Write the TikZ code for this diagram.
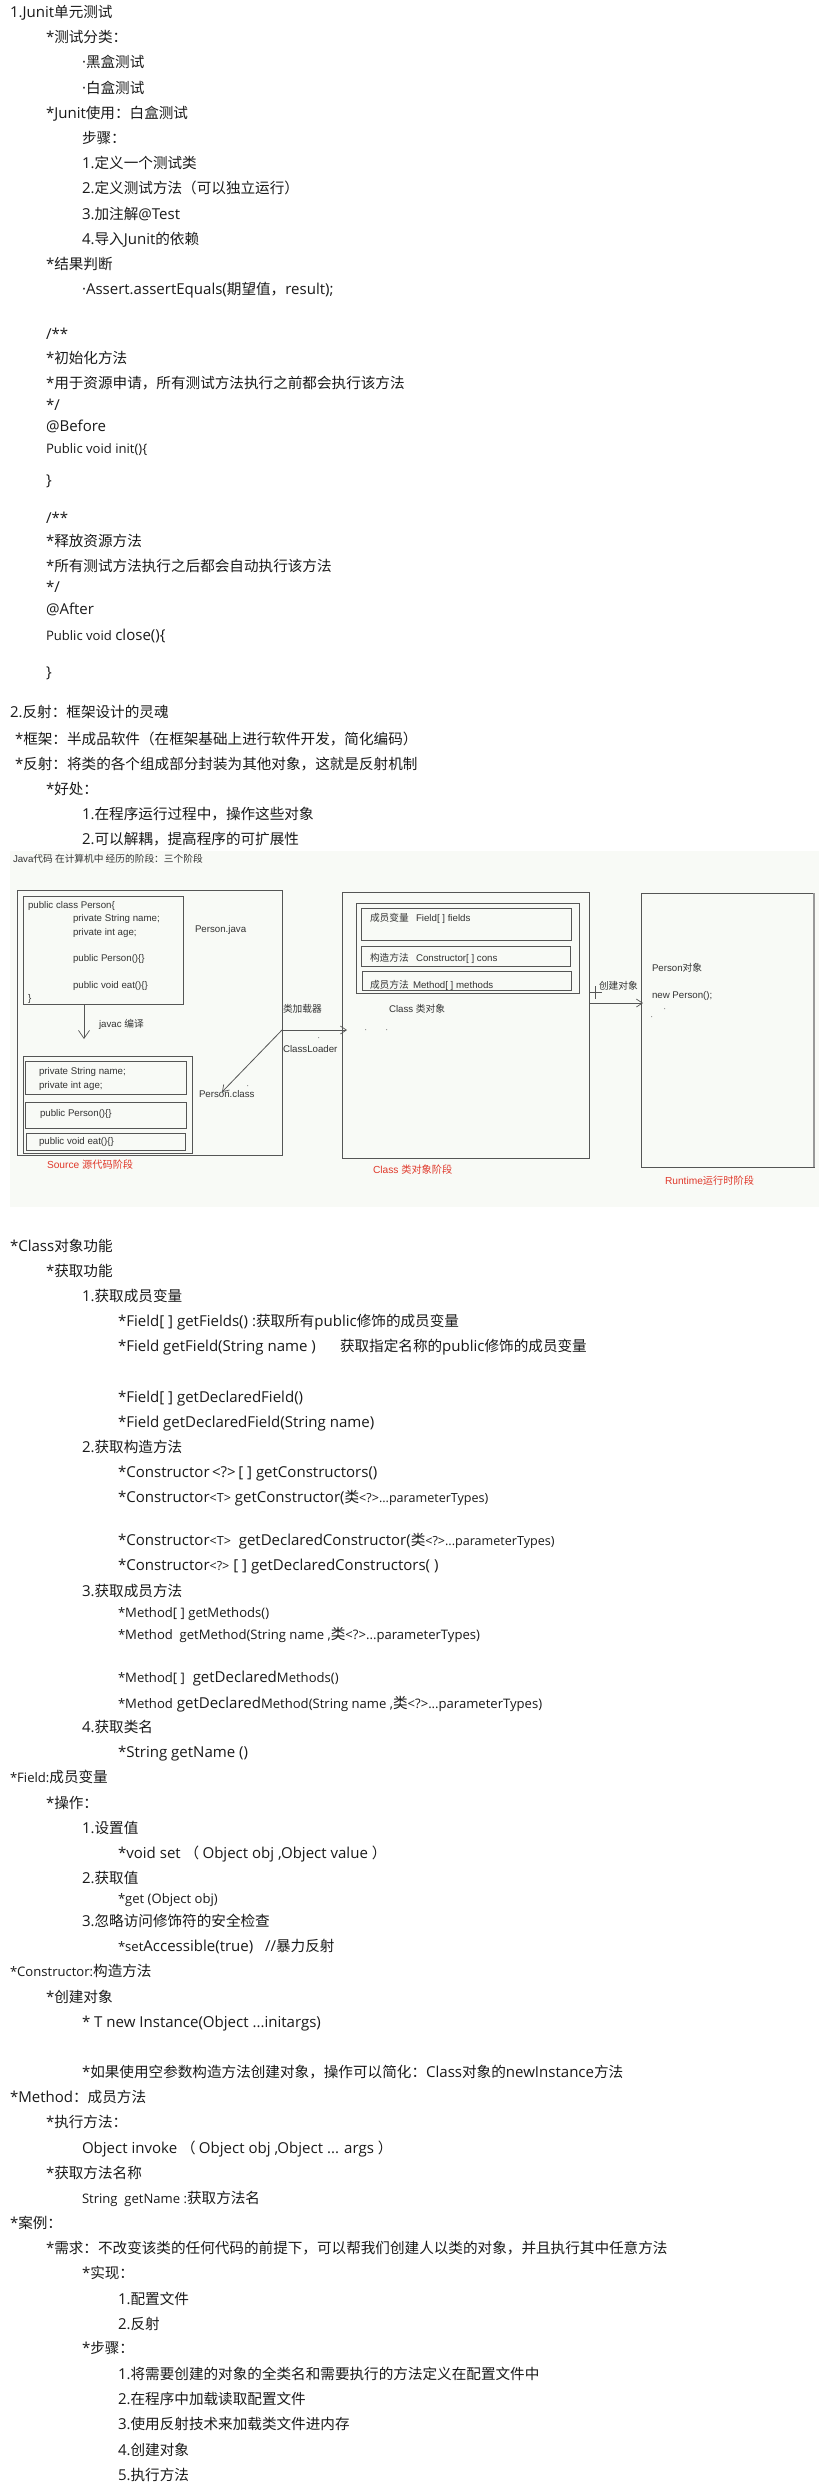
\documentclass[tikz,border=0pt]{standalone}
\usepackage{fontspec}
\usetikzlibrary{arrows.meta}
\setmainfont{Open Sans}
\newfontfamily\latinf[Scale=1.03]{Open Sans}
\newfontfamily\arialf{Liberation Sans}
\newfontfamily\cjk{Noto Sans CJK SC}
\XeTeXinterchartokenstate=1
\newXeTeXintercharclass\CJKc
\count255="4E00 \loop \XeTeXcharclass\count255=\CJKc \ifnum\count255<"9FFF \advance\count255 by 1 \repeat
\count255="FF00 \loop \XeTeXcharclass\count255=\CJKc \ifnum\count255<"FFEF \advance\count255 by 1 \repeat
\count255="3000 \loop \XeTeXcharclass\count255=\CJKc \ifnum\count255<"303F \advance\count255 by 1 \repeat
\XeTeXinterchartoks 0 \CJKc = {\cjk}
\XeTeXinterchartoks 4095 \CJKc = {\cjk}
\XeTeXinterchartoks \CJKc 0 = {\latinf}
\XeTeXinterchartoks 4095 0 = {\latinf}
\newcommand{\mainsz}{\fontsize{14.6}{17}\selectfont}
\newcommand{\mdsz}{\fontsize{12.7}{15}\selectfont}
\newcommand{\smsz}{\fontsize{12.2}{15}\selectfont}
\newcommand{\dgsz}{\let\latinf\arialf\arialf\fontsize{9.7}{12}\selectfont}
\newcommand{\dgrsz}{\let\latinf\arialf\arialf\fontsize{10.2}{12}\selectfont}
\definecolor{ink}{HTML}{1A1A1A}
\definecolor{diagbg}{HTML}{F8FAF6}
\definecolor{dline}{HTML}{555555}
\definecolor{dside}{HTML}{999999}
\definecolor{dtext}{HTML}{333333}
\definecolor{dred}{HTML}{E0392B}
\tikzset{
  tx/.style={anchor=base west,inner sep=0pt,outer sep=0pt,text=ink,font=\latinf\mainsz},
  txm/.style={tx,font=\latinf\mdsz},
  dg/.style={anchor=base west,inner sep=0pt,outer sep=0pt,text=dtext,font=\dgsz},
  dgred/.style={dg,text=dred,font=\dgrsz},
  bx/.style={draw=dline,line width=0.9pt,inner sep=0pt,outer sep=0pt},
  arr/.style={draw=dline,line width=0.8pt,-{Straight Barb[length=8pt,width=11pt,line width=0.7pt]}},
  arrs/.style={draw=dline,line width=0.8pt,-{Straight Barb[length=6pt,width=8pt,line width=0.7pt]}},
  speck/.style={fill=dside},
}
\newcommand{\Bx}[5]{\node[bx,minimum width={(#4)-(#2)},minimum height={(#5)-(#3)}] (#1) at ({((#2)+(#4))/2},{((#3)+(#5))/2}) {};}
\begin{document}
\begin{tikzpicture}[x=1pt,y=-1pt]
\useasboundingbox[fill=white] (0,0) rectangle (822,2488);
% section 1
\node[tx] (a1) at (10,18) {1.Junit单元测试};
\node[tx] (a2) at (46,43) {*测试分类：};
\node[tx] (a3) at (82,68) {·黑盒测试};
\node[tx] (a4) at (82,93.5) {·白盒测试};
\node[tx] (a5) at (46,118.5) {*Junit使用：白盒测试};
\node[tx] (a6) at (82,144) {步骤：};
\node[tx] (a7) at (82,169) {1.定义一个测试类};
\node[tx] (a8) at (82,194) {2.定义测试方法（可以独立运行）};
\node[tx] (a9) at (82,220) {3.加注解@Test};
\node[tx] (a10) at (82,245) {4.导入Junit的依赖};
\node[tx] (a11) at (46,270) {*结果判断};
\node[tx] (a12) at (82,295) {·Assert.assertEquals(期望值，result);};
\node[tx] (a13) at (46,340) {/**};
\node[tx] (a14) at (46,363) {*初始化方法};
\node[tx] (a15) at (46,388) {*用于资源申请，所有测试方法执行之前都会执行该方法};
\node[tx] (a16) at (46,410) {*/};
\node[tx] (a17) at (46,431) {@Before};
\node[txm] (a18) at (46,453) {Public void init()\{};
\node[tx] (a19) at (46,485) {\}};
\node[tx] (a20) at (46,523) {/**};
\node[tx] (a21) at (46,546) {*释放资源方法};
\node[tx] (a22) at (46,571) {*所有测试方法执行之后都会自动执行该方法};
\node[tx] (a23) at (46,592) {*/};
\node[tx] (a24) at (46,614) {@After};
\node[txm] (a25) at (46,640) {Public void {\mainsz close()\{}};
\node[tx] (a26) at (46,677) {\}};
\node[tx] (a27) at (10,717) {2.反射：框架设计的灵魂};
\node[tx] (a28) at (15,744) {*框架：半成品软件（在框架基础上进行软件开发，简化编码）};
\node[tx] (a29) at (15,769) {*反射：将类的各个组成部分封装为其他对象，这就是反射机制};
\node[tx] (a30) at (46,794) {*好处：};
\node[tx] (a31) at (82,819) {1.在程序运行过程中，操作这些对象};
\node[tx] (a32) at (82,844) {2.可以解耦，提高程序的可扩展性};
% diagram
\node[fill=diagbg,inner sep=0pt,minimum width=809pt,minimum height=356pt] (bg) at (414.5,1029) {};
\node[dg] (d0) at (13,862.5) {Java代码 在计算机中 经历的阶段：三个阶段};
\Bx{boxA}{17.5}{890}{282}{1155}
\Bx{jv}{23}{896}{183}{1004}
\node[dg] (j1) at (28,908) {public class Person\{};
\node[dg] (j2) at (73,921.5) {private String name;};
\node[dg] (j3) at (73,935) {private int age;};
\node[dg] (j4) at (73,961.5) {public Person()\{\}};
\node[dg] (j5) at (73,988.5) {public void eat()\{\}};
\node[dg] (j6) at (28,1001.5) {\}};
\node[dg] (pj) at (195,932.5) {Person.java};
\node[dg] (jc) at (99,1027.5) {javac 编译};
\Bx{cl}{23}{1056}{192}{1153}
\Bx{c1}{25}{1061}{186}{1094}
\Bx{c2}{25}{1102}{186}{1128}
\Bx{c3}{26}{1133}{185}{1150}
\node[dg] (c1a) at (39,1074.5) {private String name;};
\node[dg] (c1b) at (39,1088) {private int age;};
\node[dg] (c2a) at (40,1116.5) {public Person()\{\}};
\node[dg] (c3a) at (39,1144.5) {public void eat()\{\}};
\node[dgred] (r1) at (47,1168.5) {Source 源代码阶段};
\node[dg] (pc) at (199,1097.5) {Person.class};
\node[dg] (cla) at (283,1012.5) {类加载器};
\node[dg] (clb) at (283,1052.5) {ClassLoader};
\Bx{boxB}{342}{892}{589}{1158}
\Bx{mem}{356}{903}{579}{993}
\Bx{fd}{361}{908}{571}{940}
\Bx{cn}{361}{946}{570}{966}
\Bx{mt}{362}{971}{571}{990}
\node[dg] (fd1) at (370,921.5) {成员变量};
\node[dg] (fd2) at (416,921.5) {Field[ ] fields};
\node[dg] (cn1) at (370,961.5) {构造方法};
\node[dg] (cn2) at (416,961.5) {Constructor[ ] cons};
\node[dg] (mt1) at (370,988) {成员方法};
\node[dg] (mt2) at (413,988) {Method[ ] methods};
\node[dg] (clo) at (389,1012.5) {Class 类对象};
\node[dgred] (r2) at (373,1173.5) {Class 类对象阶段};
\Bx{boxC}{641}{893}{814}{1167}
\draw[dside,line width=1.4pt] (boxC.north east) -- (boxC.south east);
\node[dg] (po) at (652,971.5) {Person对象};
\node[dg] (np) at (652,998.5) {new Person();};
\node[dgred] (r3) at (665,1184.5) {Runtime运行时阶段};
\node[dg] (cj) at (599,989.5) {创建对象};
\coordinate (clA) at (282,1030);
\coordinate (clB) at (347,1030);
\coordinate (clC) at (222,1092);
\coordinate (cjA) at (589,1003);
\coordinate (cjB) at (643,1003);
\coordinate (pv) at (595,986);
\coordinate (pw) at (595,999);
\coordinate (ph) at (589,992);
\coordinate (pe) at (602,992);
\coordinate (jvb) at (84,1004);
\coordinate (jve) at (84,1039);
\draw[arr] (jvb) -- (jve);
\draw[arrs] (clA) -- (clB);
\draw[arrs] (clA) -- (clC);
\draw[arrs] (cjA) -- (cjB);
\draw[dline,line width=0.6pt] (pv) -- (pw) (ph) -- (pe);
\fill[speck] (365,1029) rectangle +(1,1) (386,1029) rectangle +(1,1) (318,1037) rectangle +(1,1) (247,1085) rectangle +(1,1) (664,1008) rectangle +(1,1) (651,1016) rectangle +(1,1);
% section 3
\node[tx] (b1) at (10,1251) {*Class对象功能};
\node[tx] (b2) at (46,1276) {*获取功能};
\node[tx] (b3) at (82,1301) {1.获取成员变量};
\node[tx] (b4) at (118,1326) {*Field[ ] getFields() :获取所有public修饰的成员变量};
\node[tx] (b5) at (118,1351) {*Field getField(String name )};
\node[tx] (b5b) at (340,1351) {获取指定名称的public修饰的成员变量};
\node[tx] (b6) at (118,1402) {*Field[ ] getDeclaredField()};
\node[tx] (b7) at (118,1427) {*Field getDeclaredField(String name)};
\node[tx] (b8) at (82,1452) {2.获取构造方法};
\node[tx] (b9) at (118,1477) {*Constructor\,<?>\,[ ] getConstructors()};
\node[tx] (b10) at (118,1502) {*Constructor{\smsz <T>} getConstructor(类{\smsz <?>...parameterTypes)}};
\node[tx] (b11) at (118,1545) {*Constructor{\smsz <T>}\ \ getDeclaredConstructor(类{\smsz <?>...parameterTypes)}};
\node[tx] (b12) at (118,1570) {*Constructor{\smsz <?>} [ ] getDeclaredConstructors( )};
\node[tx] (b13) at (82,1596) {3.获取成员方法};
\node[txm] (b14) at (118,1617) {*Method[ ] getMethods()};
\node[txm] (b15) at (118,1639) {*Method\ \ getMethod(String name ,{\mainsz 类}<?>...parameterTypes)};
\node[tx] (b16) at (118,1682) {{\mdsz *Method[ ]}\ \ getDeclared{\mdsz Methods()}};
\node[tx] (b17) at (118,1708) {{\mdsz *Method} getDeclared{\mdsz Method(String name ,}类{\mdsz <?>...parameterTypes)}};
\node[tx] (b18) at (82,1732) {4.获取类名};
\node[tx] (b19) at (118,1757) {*String getName ()};
\node[tx] (b20) at (10,1782) {{\mdsz *Field:}成员变量};
\node[tx] (b21) at (46,1808) {*操作：};
\node[tx] (b22) at (82,1833) {1.设置值};
\node[tx] (b23) at (118,1858) {*void set （ Object obj ,Object value ）};
\node[tx] (b24) at (82,1883) {2.获取值};
\node[txm] (b25) at (118,1903) {*get (Object obj)};
\node[tx] (b26) at (82,1926) {3.忽略访问修饰符的安全检查};
\node[tx] (b27) at (118,1951) {{\mdsz *set}Accessible(true)\ \ \ //暴力反射};
\node[tx] (b28) at (10,1976) {{\mdsz *Constructor:}构造方法};
\node[tx] (b29) at (46,2002) {*创建对象};
\node[tx] (b30) at (82,2027) {* T new Instance(Object ...initargs)};
\node[tx] (b31) at (82,2077) {*如果使用空参数构造方法创建对象，操作可以简化：Class对象的newInstance方法};
\node[tx] (b32) at (10,2102) {*Method：成员方法};
\node[tx] (b33) at (46,2127) {*执行方法：};
\node[tx] (b34) at (82,2153) {Object invoke （ Object obj ,Object ... args ）};
\node[tx] (b35) at (46,2178) {*获取方法名称};
\node[tx] (b36) at (82,2203) {{\mdsz String\ \ getName :}获取方法名};
\node[tx] (b37) at (10,2228) {*案例：};
\node[tx] (b38) at (46,2253) {*需求：不改变该类的任何代码的前提下，可以帮我们创建人以类的对象，并且执行其中任意方法};
\node[tx] (b39) at (82,2278) {*实现：};
\node[tx] (b40) at (118,2304) {1.配置文件};
\node[tx] (b41) at (118,2329) {2.反射};
\node[tx] (b42) at (82,2353) {*步骤：};
\node[tx] (b43) at (118,2379) {1.将需要创建的对象的全类名和需要执行的方法定义在配置文件中};
\node[tx] (b44) at (118,2404) {2.在程序中加载读取配置文件};
\node[tx] (b45) at (118,2429) {3.使用反射技术来加载类文件进内存};
\node[tx] (b46) at (118,2455) {4.创建对象};
\node[tx] (b47) at (118,2480) {5.执行方法};
\end{tikzpicture}
\end{document}
